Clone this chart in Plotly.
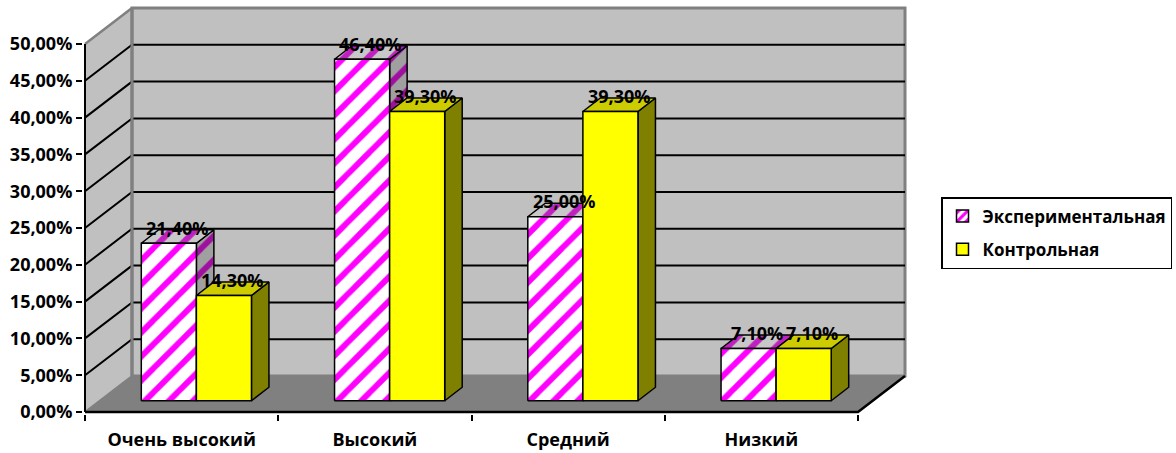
import plotly.graph_objects as go

# ---------------- data ----------------
categories = ["Очень высокий", "Высокий", "Средний", "Низкий"]
series_names = ["Экспериментальная", "Контрольная"]
exp_values = [21.4, 46.4, 25.0, 7.1]
ctrl_values = [14.3, 39.3, 39.3, 7.1]
y_ticks = [0, 5, 10, 15, 20, 25, 30, 35, 40, 45, 50]
y_tick_labels = [f"{v:.2f}".replace(".", ",") + "%" for v in y_ticks]
grid_values = y_ticks[1:-1]

# ---------------- geometry (pixels -> data units) ----------------
W, H = 1176, 453
X0, SX = 85, 193.25      # px of category boundary 0, px per category
Y0, SY = 412, 7.36       # px of 0 %, px per percent
DPX, DPY = 47, 36        # chart depth offset (px)
BPX, BPY = 17.5, 13.5    # bar depth (px)
PAD = 2
NC = len(categories)
YMAX = y_ticks[-1]

ddx, ddy = DPX / SX, DPY / SY
bdx, bdy = BPX / SX, BPY / SY
pdx, pdy = (DPX - BPX) / 2 / SX, (DPY - BPY) / 2 / SY
bar_w = 0.285
gap = (1 - 2 * bar_w) / 2

FONT = dict(family="Open Sans", size=18, color="black", weight="bold")

fig = go.Figure()


def poly(xs, ys, fill, lc, lw, pattern=None):
    kw = dict(
        x=list(xs) + [xs[0]], y=list(ys) + [ys[0]], mode="lines",
        fill="toself", fillcolor=fill, line=dict(color=lc, width=lw),
        hoverinfo="skip", showlegend=False,
    )
    if pattern:
        kw["fillpattern"] = pattern
    fig.add_trace(go.Scatter(**kw))


def line(xs, ys, color, width):
    fig.add_trace(go.Scatter(x=xs, y=ys, mode="lines",
                             line=dict(color=color, width=width),
                             hoverinfo="skip", showlegend=False))


# walls and floor
poly([0, ddx, ddx, 0], [0, ddy, YMAX + ddy, YMAX], "#C0C0C0", "#C0C0C0", 0.5)
poly([ddx, NC + ddx, NC + ddx, ddx], [ddy, ddy, YMAX + ddy, YMAX + ddy],
     "#C0C0C0", "#808080", 3)
poly([0, NC, NC + ddx, ddx], [0, 0, ddy, ddy], "#808080", "#808080", 1)

# gridlines
gx, gy = [], []
for v in grid_values:
    gx += [0, ddx, NC + ddx, None]
    gy += [v, v + ddy, v + ddy, None]
line(gx, gy, "black", 2)
line([0, ddx], [YMAX, YMAX + ddy], "#808080", 2.5)
line([0, ddx], [0, ddy], "#808080", 2)
line([ddx, ddx], [ddy, YMAX + ddy], "#808080", 3)
# axis lines / floor edges
line([0, 0], [0, YMAX], "black", 2)
line([0, NC, NC + ddx], [0, 0, ddy], "black", 2.5)

# bar styles
styles = [
    dict(front=("white", dict(shape="/", fgcolor="#FF00FF", bgcolor="white", size=17,
                              solidity=0.35, fgopacity=1)),
         top=("#C8C8C8", dict(shape="/", fgcolor="#C020C0", bgcolor="#C8C8C8", size=17,
                              solidity=0.35, fgopacity=1)),
         side=("#A0A0A0", dict(shape="/", fgcolor="#A010A0", bgcolor="#A0A0A0", size=17,
                               solidity=0.35, fgopacity=1))),
    dict(front=("#FFFF00", None), top=("#CCCC00", None), side=("#808000", None)),
]

annotations = []
for i in range(NC):
    for s, vals in enumerate([exp_values, ctrl_values]):
        v = vals[i]
        x0 = i + gap + s * bar_w + pdx
        x1 = x0 + bar_w
        b = pdy
        st = styles[s]
        poly([x1, x1 + bdx, x1 + bdx, x1], [b, b + bdy, v + b + bdy, v + b],
             st["side"][0], "black", 1.5, st["side"][1])
        poly([x0, x1, x1 + bdx, x0 + bdx], [v + b, v + b, v + b + bdy, v + b + bdy],
             st["top"][0], "black", 1.5, st["top"][1])
        poly([x0, x1, x1, x0], [b, b, v + b, v + b],
             st["front"][0], "black", 1.5, st["front"][1])
        annotations.append(dict(
            x=(x0 + x1) / 2 + bdx / 2, y=v + b + bdy / 2, xref="x", yref="y",
            text=f"{v:.2f}".replace(".", ",") + "%", showarrow=False,
            yanchor="bottom", xanchor="center", yshift=-5, font=FONT))

# legend entries
fig.add_trace(go.Bar(x=[None], y=[None], name=series_names[0],
                     marker=dict(color="white", line=dict(color="black", width=1.5),
                                 pattern=dict(shape="/", fgcolor="#FF00FF", bgcolor="white",
                                              size=8, solidity=0.5, fgopacity=1)),
                     legendgroup="a"))
fig.add_trace(go.Bar(x=[None], y=[None], name=series_names[1],
                     marker=dict(color="#FFFF00", line=dict(color="black", width=1.5)),
                     legendgroup="b"))

l = X0 - PAD
pw = NC * SX + DPX + 2 * PAD
r = W - l - pw
t = Y0 - (YMAX * SY + DPY) - PAD
b_m = H - Y0 - PAD

fig.update_layout(
    width=W, height=H,
    margin=dict(l=l, r=r, t=t, b=b_m, pad=0, autoexpand=False),
    paper_bgcolor="white", plot_bgcolor="white",
    font=FONT,
    showlegend=True,
    legend=dict(xref="container", yref="container", x=941 / W, y=1 - 197 / H,
                xanchor="left", yanchor="top", bgcolor="white",
                bordercolor="black", borderwidth=1.5, font=dict(FONT, size=17),
                traceorder="grouped", tracegroupgap=8),
    annotations=annotations,
    xaxis=dict(range=[-PAD / SX, NC + ddx + PAD / SX], showgrid=False, zeroline=False,
               tickmode="array", tickvals=[i + 0.5 for i in range(NC)], ticktext=categories,
               ticks="", showline=False, fixedrange=True, ticklabelstandoff=13,
               automargin=False,
               minor=dict(tickmode="array", tickvals=list(range(NC + 1)), ticks="outside",
                          ticklen=6, tickwidth=2, tickcolor="black", showgrid=False)),
    yaxis=dict(range=[-PAD / SY, YMAX + ddy + PAD / SY], showgrid=False, zeroline=False,
               tickmode="array", tickvals=y_ticks, ticktext=y_tick_labels,
               ticks="outside", ticklen=6, tickwidth=2, tickcolor="black",
               showline=False, fixedrange=True, automargin=False),
)

fig.write_html("out.html")
